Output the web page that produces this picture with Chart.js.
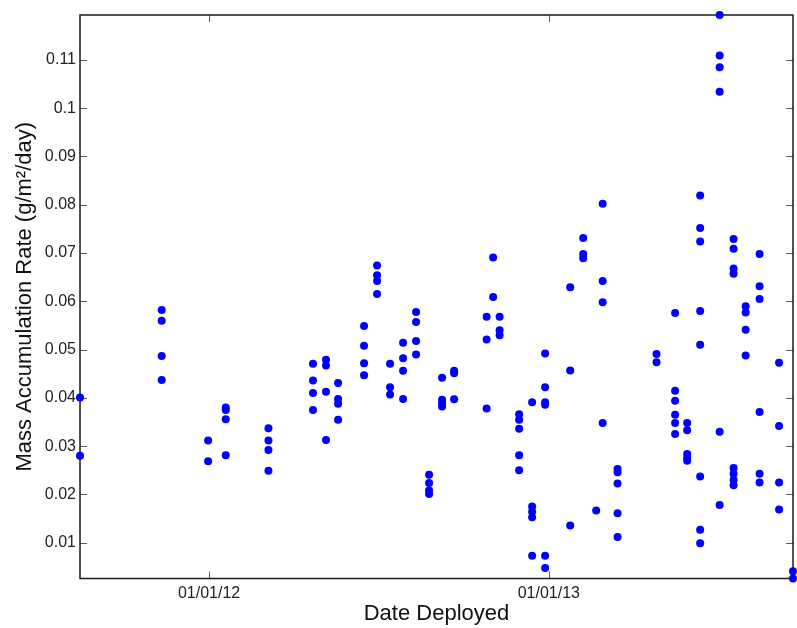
<!DOCTYPE html>
<html>
<head>
<meta charset="utf-8">
<script src="https://cdn.jsdelivr.net/npm/chart.js@4.4.1/dist/chart.umd.min.js"></script>
<style>
html,body{margin:0;padding:0;background:#fff;}
#wrap{width:797px;height:628px;position:relative;}
</style>
</head>
<body>
<div id="wrap"><canvas id="c" width="797" height="628"></canvas></div>
<script>
// ---- data ----
const deployDates = [
  '2011-08-15','2011-11-11','2011-12-31','2012-01-19','2012-03-05',
  '2012-04-22','2012-05-06','2012-05-19','2012-06-16','2012-06-30',
  '2012-07-14','2012-07-28','2012-08-11','2012-08-25','2012-09-08',
  '2012-09-21','2012-10-26','2012-11-02','2012-11-09','2012-11-30',
  '2012-12-14','2012-12-28','2013-01-24','2013-02-07','2013-02-21',
  '2013-02-28','2013-03-16','2013-04-27','2013-05-17','2013-05-30',
  '2013-06-13','2013-07-04','2013-07-19','2013-08-01','2013-08-16',
  '2013-09-06','2013-09-21'
];
const rates = [
  [0.0401, 0.0280],
  [0.0582, 0.0560, 0.0487, 0.0437],
  [0.0312, 0.0269],
  [0.0380, 0.0375, 0.0356, 0.0281],
  [0.0337, 0.0312, 0.0292, 0.0249],
  [0.0471, 0.0436, 0.0410, 0.0375],
  [0.0479, 0.0467, 0.0413, 0.0313],
  [0.0431, 0.0398, 0.0388, 0.0355],
  [0.0549, 0.0508, 0.0472, 0.0447],
  [0.0674, 0.0654, 0.0642, 0.0615],
  [0.0471, 0.0422, 0.0407],
  [0.0514, 0.0482, 0.0456, 0.0398],
  [0.0578, 0.0557, 0.0518, 0.0490],
  [0.0241, 0.0224, 0.0208, 0.0201],
  [0.0442, 0.0396, 0.0389, 0.0382],
  [0.0456, 0.0451, 0.0397],
  [0.0568, 0.0521, 0.0378],
  [0.0691, 0.0609],
  [0.0568, 0.0540, 0.0530],
  [0.0366, 0.0355, 0.0336, 0.0281, 0.0250],
  [0.0391, 0.0175, 0.0164, 0.0153, 0.0073],
  [0.0492, 0.0422, 0.0391, 0.0386, 0.0073, 0.0048],
  [0.0629, 0.0457, 0.0136],
  [0.0731, 0.0698, 0.0689],
  [0.0167],
  [0.0802, 0.0642, 0.0598, 0.0348],
  [0.0253, 0.0246, 0.0223, 0.0161, 0.0112],
  [0.0491, 0.0474],
  [0.0576, 0.0415, 0.0394, 0.0365, 0.0348, 0.0325],
  [0.0348, 0.0333, 0.0284, 0.0276, 0.0270],
  [0.0819, 0.0752, 0.0724, 0.0580, 0.0510, 0.0237, 0.0127, 0.0099],
  [0.1193, 0.1109, 0.1085, 0.1034, 0.0330, 0.0178],
  [0.0729, 0.0709, 0.0668, 0.0657, 0.0255, 0.0243, 0.0230, 0.0219],
  [0.0590, 0.0577, 0.0541, 0.0488],
  [0.0698, 0.0631, 0.0605, 0.0371, 0.0243, 0.0225],
  [0.0473, 0.0342, 0.0225, 0.0169],
  [0.0041, 0.0026]
];
const xTickDates = ['2012-01-01', '2013-01-01'];
const xTickLabels = ['01/01/12', '01/01/13'];
const yTicks = [0.01, 0.02, 0.03, 0.04, 0.05, 0.06, 0.07, 0.08, 0.09, 0.1, 0.11];
const xTitle = 'Date Deployed';
const yTitle = 'Mass Accumulation Rate (g/m\u00B2/day)';

// ---- build points ----
const points = [];
deployDates.forEach((d, i) => {
  const t = Date.parse(d);
  rates[i].forEach(v => points.push({x: t, y: v}));
});
const xs = points.map(p => p.x), ys = points.map(p => p.y);
const xMin = Math.min(...xs), xMax = Math.max(...xs);
const yMin = Math.min(...ys), yMax = Math.max(...ys);
const xTickVals = xTickDates.map(d => Date.parse(d));

const FONT = '"Liberation Sans", Arial, Helvetica, sans-serif';

const boxPlugin = {
  id: 'matlabBox',
  beforeDatasetsDraw(chart) {
    const {ctx, chartArea: a, scales: {x, y}} = chart;
    const L = 7;
    ctx.save();
    ctx.strokeStyle = '#5a5a5a';
    ctx.lineWidth = 1;
    ctx.beginPath();
    y.ticks.forEach(t => {
      const p = Math.round(y.getPixelForValue(t.value)) + 0.5;
      ctx.moveTo(a.left, p); ctx.lineTo(a.left + L, p);
      ctx.moveTo(a.right, p); ctx.lineTo(a.right - L, p);
    });
    x.ticks.forEach(t => {
      const p = Math.round(x.getPixelForValue(t.value)) + 0.5;
      ctx.moveTo(p, a.bottom); ctx.lineTo(p, a.bottom - L);
      ctx.moveTo(p, a.top); ctx.lineTo(p, a.top + L);
    });
    ctx.stroke();
    ctx.strokeStyle = '#1a1a1a';
    ctx.lineWidth = 1.5;
    ctx.strokeRect(a.left, a.top, a.right - a.left, a.bottom - a.top);
    ctx.restore();
  }
};

new Chart(document.getElementById('c'), {
  type: 'scatter',
  data: {
    datasets: [{
      data: points,
      backgroundColor: '#0000ff',
      borderColor: '#0000ff',
      borderWidth: 0,
      pointRadius: 4,
      pointHoverRadius: 4,
      clip: false
    }]
  },
  options: {
    responsive: false,
    animation: false,
    devicePixelRatio: 1,
    layout: {padding: {top: 15, right: 1.5, left: 0, bottom: 0}},
    plugins: {legend: {display: false}, tooltip: {enabled: false}},
    scales: {
      x: {
        type: 'linear',
        min: xMin,
        max: xMax,
        grid: {display: false, drawTicks: false},
        border: {display: false},
        afterFit(s) { s.height = 49.5; },
        afterBuildTicks(s) { s.ticks = xTickVals.map(v => ({value: v})); },
        ticks: {
          autoSkip: false,
          maxRotation: 0,
          padding: 5,
          color: '#222',
          font: {family: FONT, size: 16},
          callback(v) { const i = xTickVals.indexOf(v); return i >= 0 ? xTickLabels[i] : ''; }
        },
        title: {
          display: true,
          text: xTitle,
          color: '#111',
          font: {family: FONT, size: 22},
          padding: {top: 0, bottom: 1}
        }
      },
      y: {
        type: 'linear',
        min: yMin,
        max: yMax,
        grid: {display: false, drawTicks: false},
        border: {display: false},
        afterFit(s) { s.width = 80; },
        afterBuildTicks(s) { s.ticks = yTicks.map(v => ({value: v})); },
        ticks: {
          autoSkip: false,
          padding: 4,
          color: '#222',
          font: {family: FONT, size: 16},
          callback(v) { return String(Number(v.toFixed(3))); }
        },
        title: {
          display: true,
          text: yTitle,
          color: '#111',
          font: {family: FONT, size: 22},
          padding: {top: 12, bottom: 0}
        }
      }
    }
  },
  plugins: [boxPlugin]
});
</script>
</body>
</html>
